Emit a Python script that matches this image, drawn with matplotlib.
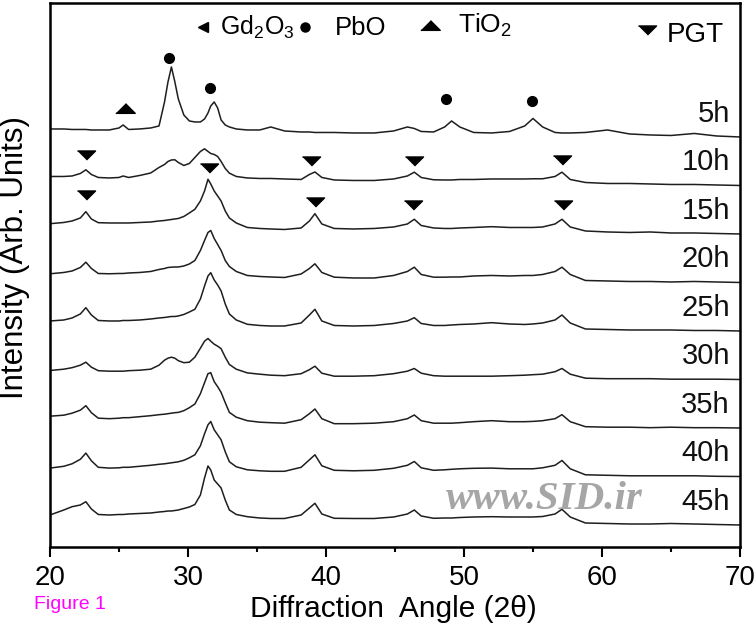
import matplotlib
matplotlib.use('Agg')

import numpy as np
import matplotlib.pyplot as plt
import matplotlib.transforms as mtransforms
from matplotlib.ticker import MultipleLocator

plt.rcParams['font.family'] = ['Liberation Sans', 'DejaVu Sans']
plt.rcParams['mathtext.default'] = 'regular'

# diffraction angle grid (2 theta, degrees)
two_theta = [20.0, 21.0, 21.6, 22.2, 22.6, 23.0, 23.5, 24.3, 25.0, 25.3,
             25.7, 26.5, 27.3, 27.9, 28.3, 28.55, 28.8, 29.05, 29.3, 29.7,
             30.1, 30.5, 30.9, 31.2, 31.45, 31.65, 31.9, 32.15, 32.4, 32.7,
             33.0, 33.5, 34.3, 35.2, 36.0, 37.0, 38.2, 38.8, 39.2, 39.7,
             40.6, 42.0, 43.5, 44.9, 45.9, 46.4, 46.9, 47.8, 48.6, 49.1,
             49.7, 50.7, 52.0, 53.3, 54.4, 55.0, 55.7, 56.6, 57.1, 57.7,
             58.8, 60.4, 62.0, 63.5, 65.0, 66.7, 68.3, 70.0]

# intensities (arb. units), one list per milling time
i_5h = [8, 8, 7.5, 7.5, 7.5, 7, 7, 7, 9, 12,
        7.5, 8, 9, 11, 35, 55, 70, 55, 38, 22,
        16, 15, 15, 18, 24, 31, 35, 29, 17, 12,
        10, 8, 7, 7, 10, 6, 5, 5, 4.5, 4.5,
        4.5, 4, 4, 6, 10, 8.5, 5.5, 5, 10, 16,
        10, 4.5, 4, 5.5, 11, 18.5, 10, 4.5, 4, 4,
        4.5, 7, 3, 2, 1.5, 3.5, 1, 0]
i_10h = [9, 9, 9.5, 12, 15.7, 11, 8, 7.5, 8, 9.5,
         8, 10, 12.5, 18, 21, 24, 25.5, 25.7, 23, 20,
         22, 28, 34, 36.7, 34, 32, 31, 29, 24, 17,
         12.3, 9, 7.5, 7, 7, 6.5, 6, 11, 13.5, 8,
         5.5, 5, 5, 6.5, 9.5, 13.3, 8, 5.7, 5.5, 5.5,
         6, 6, 6.5, 6.5, 6.5, 6.7, 6.7, 9, 13.3, 6,
         3, 2, 2, 1.5, 1, 1, 0.5, 0]
i_15h = [10.3, 11.5, 13, 16, 22.3, 15, 11.3, 11, 11, 11,
         11, 11.5, 12, 13, 13.5, 14, 14.5, 15, 15.5, 17.5,
         21, 24.7, 33, 43, 54.7, 50, 43, 38, 33, 23,
         16, 11, 6.5, 5.5, 5, 4.5, 6, 13, 20.3, 10,
         5.5, 5, 5.5, 7, 10, 14.7, 8.5, 6, 5.5, 5.5,
         6, 6.5, 7.3, 6.5, 6.5, 6.5, 7, 10, 14.7, 7,
         3, 2, 1.5, 2, 1, 1, 0.5, 0]
i_20h = [8.7, 10, 11.5, 15, 20.3, 14, 9, 8.7, 9, 9,
         9.5, 10, 11, 13, 14, 15, 15.3, 15.5, 15.5, 16.5,
         18.5, 22, 32, 42, 50, 52, 44, 38, 32, 22,
         16, 11, 7, 6, 5.5, 5, 8.5, 14, 18.7, 10,
         5.3, 4.5, 4.5, 7, 11, 15.3, 8, 5.3, 5.3, 5.5,
         5.5, 6.5, 7, 6.5, 7, 7, 8, 11, 15.3, 8,
         2, 1.5, 1, 1, 0.5, 1, 0.5, 0]
i_25h = [10, 11, 13, 17, 23.3, 16, 10.5, 10, 10, 10.5,
         10.5, 11, 12, 13, 13.5, 14, 14.5, 14.5, 15, 16.5,
         19, 21.7, 32, 45, 55, 58.3, 51, 46, 40, 27,
         17, 11, 6.7, 5.5, 5, 5, 8, 16, 21.7, 10,
         5.5, 5, 5.5, 7.5, 10, 13.3, 7.5, 5.5, 5.5, 6,
         6.5, 7, 8.3, 7, 6.5, 7, 8, 11, 16, 8,
         2, 1.5, 1, 1, 1, 0.5, 0.5, 0]
i_30h = [9, 10.3, 11.8, 14.3, 17.3, 12.3, 8.8, 8.3, 8.3, 8.3,
         8.8, 9.3, 10.3, 14.3, 19.3, 21.3, 22.3, 21.3, 18.8, 16.8,
         17.3, 22.3, 31.3, 38.3, 41, 38.3, 35.3, 33.3, 30.8, 22.3,
         15, 10.3, 6.6, 5.3, 4.3, 3.8, 5.8, 9.8, 13.3, 6.3,
         3.3, 3.3, 3.8, 5.8, 8.3, 11, 6.3, 3.8, 3.3, 3.3,
         3.3, 3.3, 3.3, 3.8, 4.3, 4.8, 5.3, 7.8, 11, 5.3,
         1.3, 0.8, 0.8, 0.8, 0.3, 0.3, 0.3, 0]
i_35h = [11.8, 12.8, 14.8, 17.8, 22.3, 15.3, 9.8, 9.3, 9.8, 10.3,
         10.3, 11.3, 12.3, 13.3, 13.8, 14.3, 14.8, 15.3, 15.6, 17.3,
         20.3, 24, 34.3, 45.3, 54.3, 55.3, 46.3, 41.3, 35.6, 25.3,
         15.6, 10.8, 7.3, 5.8, 5.3, 4.8, 8.3, 14.3, 19, 9.3,
         4.3, 4.3, 4.8, 6.3, 9.3, 13, 7.3, 4.8, 4.8, 4.8,
         5.3, 6.3, 7.3, 6.3, 6.3, 6.6, 7.3, 9.3, 13.3, 6.3,
         1.3, 0.8, 0.8, 0.3, 0.8, 0.3, 0.3, 0]
i_40h = [8.4, 10.2, 12.7, 17.2, 23.4, 15.7, 9.2, 8.4, 8.7, 9.2,
         9.2, 10.2, 11.2, 12.2, 12.7, 13.2, 13.7, 14.2, 14.7, 16.2,
         18.7, 21.7, 30.7, 42.7, 51.7, 55, 46.7, 41.7, 36.7, 24.7,
         14.7, 9.7, 6.7, 5.7, 5.2, 5.2, 9.2, 16.7, 21.7, 10.7,
         6.2, 5.7, 6.2, 8.2, 11.2, 15, 8.7, 6.2, 6.7, 7.2,
         7.7, 8.2, 8.4, 7.7, 7.7, 7.7, 8.7, 11.2, 16, 7.7,
         1.7, 1.2, 0.7, 0.7, 0.7, 0.7, 0.2, 0]
i_45h = [10, 15, 18.3, 20, 23.3, 16, 10.5, 10, 10.5, 10.5,
         11, 11.5, 12, 13, 13.5, 14, 14, 14.5, 15, 16.5,
         18, 20.5, 30, 47, 59, 55, 45, 41, 37, 25,
         15, 10.5, 8.3, 7, 6.5, 6.5, 10, 17, 21.7, 11,
         6.7, 6.5, 6.5, 8, 11, 15, 9, 6.7, 7, 7,
         7.5, 8, 8.3, 8, 8, 8, 8.5, 11, 15.7, 8,
         2, 1.5, 1, 1, 1.5, 1, 0.5, 0]

labels = ['5h', '10h', '15h', '20h', '25h', '30h', '35h', '40h', '45h']
traces = [i_5h, i_10h, i_15h, i_20h, i_25h, i_30h, i_35h, i_40h, i_45h]

# phase markers: peak angle and marker height (same units as the trace)
pbo_x = [28.6, 31.6, 48.7, 54.9]
pbo_h = [79, 48.7, 38, 36.3]
tio2_x = [25.4]
tio2_h = [28.7]
pgt10_x = [22.6, 38.9, 46.4, 57.1]
pgt10_h = [30.7, 24, 24, 25.7]
pgt15_x = [22.6, 31.5, 39.2, 46.3, 57.2]
pgt15_h = [39, 66.3, 32.3, 29, 29]

step = 48.5
ink = '#1e1e1e'
tri_down = [(-1, 0.5), (1, 0.5), (0, -0.5)]
tri_up = [(-1, -0.5), (1, -0.5), (0, 0.5)]

fig = plt.figure(figsize=(7.55, 6.32), dpi=100)
ax = fig.add_axes([0.0662, 0.1345, 0.9139, 0.8608])

n = len(traces)
offsets = {}
trans = mtransforms.blended_transform_factory(ax.transAxes, ax.transData)
for k, (lab, vals) in enumerate(zip(labels, traces)):
    off = (n - 1 - k) * step
    offsets[lab] = off
    ax.plot(two_theta, np.array(vals) + off, color=ink, lw=1.1)
    ax.text(0.9855, off + 15, lab, transform=trans, ha='right', va='baseline',
            fontsize=21, color='#111111')

ax.plot(pbo_x, np.array(pbo_h) + offsets['5h'], 'o', color='black', ms=7, ls='none')
ax.plot(tio2_x, np.array(tio2_h) + offsets['5h'], marker=tri_up, color='black', ms=14, ls='none')
ax.plot(pgt10_x, np.array(pgt10_h) + offsets['10h'], marker=tri_down, color='black', ms=13, ls='none')
ax.plot(pgt15_x, np.array(pgt15_h) + offsets['15h'], marker=tri_down, color='black', ms=13, ls='none')

# legend row along the top
ax.plot([0.2217], [0.956], marker='<', color='black', ms=7, transform=ax.transAxes)
ax.text(0.2464, 0.9412, 'Gd$_2$O$_3$', transform=ax.transAxes, fontsize=18, va='baseline')
ax.plot([0.3696], [0.956], 'o', color='black', ms=6.5, transform=ax.transAxes)
ax.text(0.413, 0.9412, 'PbO', transform=ax.transAxes, fontsize=18.5, va='baseline')
ax.plot([0.5507], [0.9596], marker=tri_up, color='black', ms=14, transform=ax.transAxes)
ax.text(0.5913, 0.9449, 'TiO$_2$', transform=ax.transAxes, fontsize=19, va='baseline')
ax.plot([0.8652], [0.9504], marker=tri_down, color='black', ms=13, transform=ax.transAxes)
ax.text(0.8942, 0.9283, 'PGT', transform=ax.transAxes, fontsize=20, va='baseline')

ax.text(0.716, 0.0864, 'www.SID.ir', transform=ax.transAxes, fontsize=29.5,
        family='Liberation Serif', weight='bold', style='italic',
        color='#a6a6a6', ha='center', va='center', zorder=5)

ax.set_xlim(20, 70)
ax.set_ylim(-22, 522)
ax.xaxis.set_major_locator(MultipleLocator(10))
ax.xaxis.set_minor_locator(MultipleLocator(5))
ax.set_yticks([])
ax.tick_params(axis='x', which='major', direction='out', length=7, width=1.5,
               labelsize=20, pad=6, top=False)
ax.tick_params(axis='x', which='minor', direction='out', length=3.5, width=1.5, top=False)
for sp in ax.spines.values():
    sp.set_linewidth(1.8)

fig.text(0.5212, 0.0364, 'Diffraction  Angle (2\u03b8)', ha='center', va='center', fontsize=21.5)
fig.text(0.0199, 0.5918, 'Intensity (Arb. Units)', rotation=90, ha='center', va='center', fontsize=22.5)
fig.text(0.045, 0.0443, 'Figure 1', ha='left', va='center', fontsize=14, color='#ff00ff')

fig.savefig('out.png', dpi=100)
